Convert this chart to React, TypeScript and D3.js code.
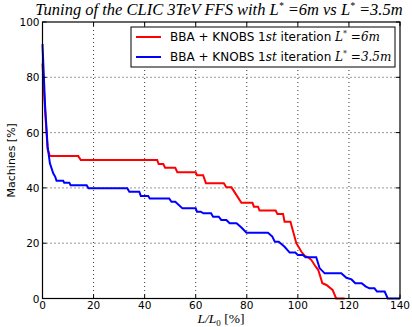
import React from 'react';
import * as d3 from 'd3';

// L/L0 [%] vs machines [%]
const redX = [0, 1, 2, 2.9, 14, 15, 44.9, 45.5, 47.3, 48, 52, 52.8, 60, 60.5, 62.9, 64, 71, 72, 74, 77.9, 82.2, 82.8, 84.4, 85, 91.3, 92, 94.2, 94.8, 97.1, 99.4, 101.4, 102.7, 104, 105.3, 107, 108, 109.6, 111.2, 113.6, 115, 118.3];
const redY = [85, 68, 54, 51.5, 51.5, 50.1, 50.1, 48.6, 48.6, 47.3, 47.3, 45.7, 45.7, 44.6, 44.6, 41.7, 41.7, 40.2, 40.2, 34.6, 34.6, 33.2, 33.2, 31.8, 31.8, 30.6, 30.6, 27.8, 27.8, 20, 16.9, 15.4, 14.9, 13.9, 11.5, 10.3, 5.5, 4.9, 3.1, 0, 0];

const blueX = [0, 1, 2, 2.9, 4.2, 5, 5.5, 8.1, 8.5, 10.5, 11, 17.3, 18, 33.2, 34, 37.9, 38.5, 41.4, 42, 49.6, 50.5, 52, 54.8, 60, 60.5, 62, 63, 66, 66.8, 69, 70, 72, 73.3, 76, 77.9, 79.9, 88.3, 90, 91, 92.5, 94.8, 96.8, 99, 100, 102, 103, 107.2, 108.5, 110.5, 117, 119, 121, 122.5, 125, 126.5, 128, 130, 131, 134, 135.2, 140];
const blueY = [92, 70, 55, 48.9, 45.3, 44, 42.6, 42.6, 41.9, 41.9, 41, 41, 39.9, 39.9, 38.6, 38.6, 37.1, 37.1, 36.2, 36.2, 35, 35, 32.6, 32.6, 31.4, 31.4, 30.8, 30.8, 29.6, 29.6, 28.4, 28.4, 27.2, 27.2, 25.7, 23.8, 23.8, 22.4, 20.5, 20.5, 18.7, 16.6, 16.6, 15.7, 15.7, 14.9, 14.9, 11, 9.1, 9.1, 7.5, 6.9, 5.5, 5.5, 4.4, 3.7, 3.7, 2.5, 2.5, 0, 0];

const xTicks = [0, 20, 40, 60, 80, 100, 120, 140];
const yTicks = [0, 20, 40, 60, 80, 100];

const left = 42.5, right = 400, top = 22, bottom = 298.5;
const sans = 'DejaVu Sans, sans-serif';
const serif = 'Liberation Serif, serif';
const math = 'DejaVu Serif, serif';

export default function App() {
  const x = d3.scaleLinear().domain([0, 140]).range([left, right]);
  const y = d3.scaleLinear().domain([0, 100]).range([bottom, top]);
  const line = d3.line<[number, number]>().x(d => x(d[0])).y(d => y(d[1]));
  const red = redX.map((v, i) => [v, redY[i]] as [number, number]);
  const blue = blueX.map((v, i) => [v, blueY[i]] as [number, number]);

  const legendItem = (val: string) => (
    <>
      <tspan fontFamily={sans}>BBA + KNOBS 1</tspan>
      <tspan fontFamily={math} fontStyle="italic">st</tspan>
      <tspan fontFamily={sans}> iteration </tspan>
      <tspan fontFamily={math} fontStyle="italic">L</tspan>
      <tspan fontFamily={math} fontSize={8} dy={-5}>*</tspan>
      <tspan fontFamily={math} fontStyle="italic" dy={5}> ={val}</tspan>
    </>
  );

  return (
    <div style={{ position: 'absolute', left: 0, top: 0 }}>
      <svg width={412} height={327} style={{ display: 'block', background: '#fff' }}>
        <rect x={0} y={0} width={412} height={327} fill="#fff" />
        {/* grid */}
        {xTicks.slice(1, -1).map(t => (
          <line key={'gx' + t} x1={x(t)} x2={x(t)} y1={top} y2={bottom} stroke="#000" strokeWidth={0.8} strokeDasharray="1,3" />
        ))}
        {yTicks.slice(1, -1).map(t => (
          <line key={'gy' + t} x1={left} x2={right} y1={y(t)} y2={y(t)} stroke="#000" strokeWidth={0.8} strokeDasharray="1,3" />
        ))}
        {/* curves */}
        <path d={line(red) || ''} fill="none" stroke="#ff0000" strokeWidth={2} />
        <path d={line(blue) || ''} fill="none" stroke="#0000ff" strokeWidth={2} />
        {/* frame */}
        <rect x={left} y={top} width={right - left} height={bottom - top} fill="none" stroke="#000" strokeWidth={1.2} />
        {/* ticks */}
        {xTicks.map(t => (
          <g key={'tx' + t}>
            <line x1={x(t)} x2={x(t)} y1={bottom} y2={bottom - 4} stroke="#000" />
            <line x1={x(t)} x2={x(t)} y1={top} y2={top + 4} stroke="#000" />
            <text x={x(t)} y={309} textAnchor="middle" fontFamily={sans} fontSize={10.5}>{t}</text>
          </g>
        ))}
        {yTicks.map(t => (
          <g key={'ty' + t}>
            <line x1={left} x2={left + 4} y1={y(t)} y2={y(t)} stroke="#000" />
            <line x1={right} x2={right - 4} y1={y(t)} y2={y(t)} stroke="#000" />
            <text x={left - 3} y={y(t) + 4} textAnchor="end" fontFamily={sans} fontSize={10.5}>{t}</text>
          </g>
        ))}
        {/* labels */}
        <text x={219} y={15} textAnchor="middle" fontFamily={serif} fontStyle="italic" fontSize={16.5}>
          Tuning of the CLIC 3TeV FFS with L<tspan fontSize={9.5} dy={-6}>*</tspan><tspan dy={6}> =6m vs L</tspan><tspan fontSize={9.5} dy={-6}>*</tspan><tspan dy={6}> =3.5m</tspan>
        </text>
        <text transform={`translate(15,${(top + bottom) / 2}) rotate(-90)`} textAnchor="middle" fontFamily={sans} fontSize={11}>Machines [%]</text>
        <text x={221} y={323} textAnchor="middle" fontFamily={serif} fontSize={13.5}>
          <tspan fontStyle="italic">L/L</tspan><tspan fontSize={9} dy={2.5}>0</tspan><tspan dy={-2.5}> [%]</tspan>
        </text>
        {/* legend */}
        <rect x={131} y={27} width={264} height={40} fill="#fff" stroke="#000" strokeWidth={1} />
        <line x1={136} x2={161} y1={37} y2={37} stroke="#ff0000" strokeWidth={2} />
        <line x1={136} x2={161} y1={57} y2={57} stroke="#0000ff" strokeWidth={2} />
        <text x={170} y={41} fontSize={12}>{legendItem('6m')}</text>
        <text x={170} y={61} fontSize={12}>{legendItem('3.5m')}</text>
      </svg>
    </div>
  );
}
